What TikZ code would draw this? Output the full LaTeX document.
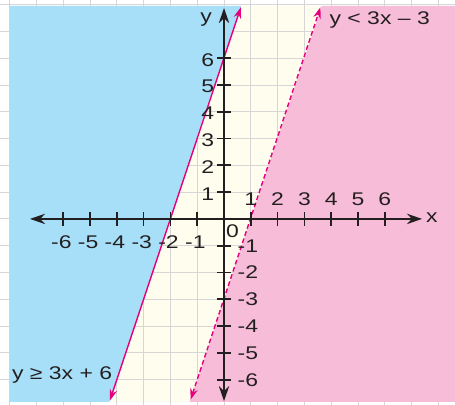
\documentclass[tikz,border=0pt]{standalone}
\usepackage{fontspec}
\setmainfont{Liberation Sans}
\usetikzlibrary{arrows.meta}

\definecolor{skyfill}{HTML}{A8DFF8}
\definecolor{creamfill}{HTML}{FFFDEE}
\definecolor{pinkfill}{HTML}{F7BDD8}
\definecolor{magline}{HTML}{E6007E}
\definecolor{axisgrey}{HTML}{231F20}
\definecolor{gridgrey}{HTML}{D6D6D6}

\begin{document}
\begin{tikzpicture}[x=1cm,y=1cm,
  lbl/.style={font=\fontsize{19.5}{20}\selectfont, text=axisgrey, inner sep=0pt, xscale=1.25},
  axis/.style={line width=1.8pt, draw=axisgrey},
  boundary/.style={line width=1.5pt, draw=magline,
    {Stealth[length=12pt,width=8pt]}-{Stealth[length=12pt,width=8pt]}}]
  \useasboundingbox (-8.36,-6.94) rectangle (8.62,8.17);

  % shaded half planes
  \fill[creamfill] (-8,-6.83) rectangle (8.62,7.95);
  \draw[gridgrey, line width=0.9pt] (-8.36,-6.94) grid (8.62,8.17);
  \fill[skyfill] (-8,7.95) -- (0.65,7.95) -- (-4.28,-6.83) -- (-8,-6.83) -- cycle;
  \fill[pinkfill] (3.65,7.95) -- (8.62,7.95) -- (8.62,-6.83) -- (-1.28,-6.83) -- cycle;

  % boundary lines
  \coordinate (solidlo) at (-4.26,-6.78);
  \coordinate (solidhi) at (0.63,7.9);
  \coordinate (dashlo) at (-1.25,-6.75);
  \coordinate (dashhi) at (3.6,7.9);
  \draw[boundary] (solidlo) -- (solidhi);
  \draw[boundary, dash pattern=on 5pt off 3pt] (dashlo) -- (dashhi);

  % axes
  \draw[axis, {Stealth[length=16pt,width=11pt]}-{Stealth[length=16pt,width=11pt]}]
    (-7.24,0) -- (7.39,0);
  \draw[axis, {Stealth[length=16pt,width=11pt]}-{Stealth[length=16pt,width=11pt]}]
    (0,-6.8) -- (0,7.87);
  \foreach \k in {-6,...,-1,1,2,...,6} {
    \draw[axis] (\k,-0.25) -- (\k,0.25);
    \draw[axis] (-0.25,\k) -- (0.25,\k);
  }

  % tick labels
  \foreach \k in {1,...,6} {
    \node[lbl] (xp\k) at (\k,0.74) {\k};
    \node[lbl, anchor=east] (yp\k) at (-0.36,\k-0.06) {\k};
    \node[lbl] (xn\k) at (-\k-0.07,-0.86) {-\k};
    \node[lbl, anchor=west] (yn\k) at (0.5,-\k) {-\k};
  }
  \node[lbl] (orig) at (0.32,-0.45) {0};
  \node[lbl] (xlab) at (7.76,0.05) {x};
  \node[lbl] (ylab) at (-0.67,7.45) {y};

  % inequality labels
  \node[lbl] (dashineq) at (5.81,7.43) {y < 3x – 3};
  \node[lbl] (solidineq) at (-6.04,-5.82) {y ≥ 3x + 6};
\end{tikzpicture}
\end{document}
